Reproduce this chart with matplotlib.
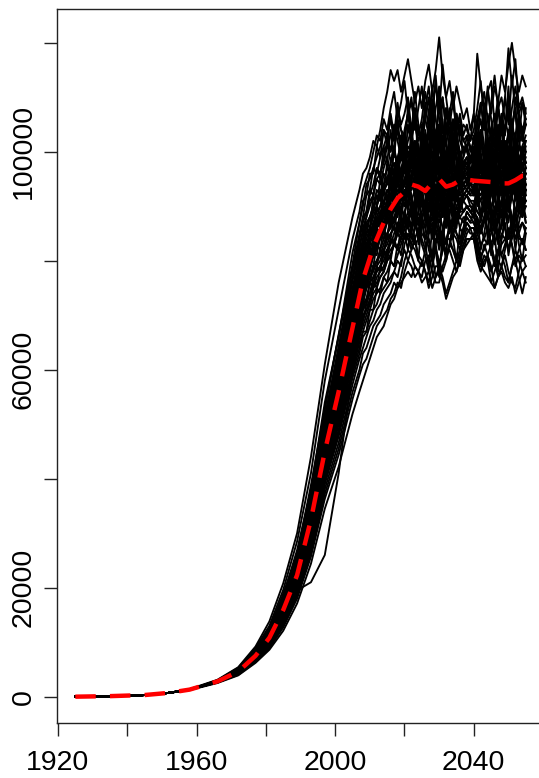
import numpy as np
import matplotlib
matplotlib.use("Agg")
import matplotlib.pyplot as plt

plt.rcParams['font.family'] = ['Liberation Sans', 'DejaVu Sans']

# Years before the runs split apart (all runs share these values, in thousands)
early_years = [1925, 1935, 1945, 1952]
early_vals = [0.0, 0.1, 0.3, 0.7]

# Years where the simulated runs are sampled (coarse during the rise, yearly after)
rise_years = [1958, 1966, 1972, 1977, 1981, 1985, 1989, 1993, 1997, 2001, 2005]
late_years = list(range(2007, 2056))

# Mean of all runs (red dashed line), thousands
mean_years = [1958, 1966, 1972, 1977, 1981, 1985, 1989, 1993, 1997, 2001,
              2005, 2008, 2011, 2014, 2016, 2018, 2020, 2022, 2024, 2026,
              2028, 2030, 2032, 2034, 2036, 2038, 2040, 2042, 2044, 2046,
              2048, 2050, 2052, 2054, 2055]
mean_vals = [1.3, 2.8, 4.6, 7.5, 10.8, 15.9, 22.3, 32.5, 45.0, 56.0,
             67.7, 76.5, 82.5, 87.0, 89.5, 91.5, 92.6, 94.0, 93.6, 92.8,
             94.3, 95.0, 93.6, 94.0, 94.8, 94.9, 94.7, 94.6, 94.5, 94.4,
             94.2, 94.2, 94.8, 95.6, 95.6]

# Each run during the rise (rise_years), thousands
rise_runs = [
    [1.4, 3.1, 5.4, 9.2, 13.8, 20.8, 30.0, 44.0, 61.0, 76.0, 88.0],
    [1.3, 3.0, 5.3, 8.9, 13.0, 19.6, 28.5, 41.0, 58.0, 71.0, 84.0],
    [1.3, 3.0, 5.1, 8.5, 12.4, 18.5, 26.9, 38.0, 54.0, 66.0, 81.5],
    [1.3, 2.9, 5.0, 8.4, 12.5, 18.2, 25.8, 37.2, 52.9, 66.2, 78.5],
    [1.3, 3.0, 5.0, 8.4, 12.0, 18.0, 25.9, 37.8, 51.0, 64.0, 78.5],
    [1.3, 2.9, 4.9, 8.2, 12.1, 17.7, 25.0, 36.2, 51.5, 63.0, 77.0],
    [1.3, 2.9, 4.9, 8.0, 11.9, 17.4, 24.9, 36.5, 49.5, 62.5, 74.5],
    [1.3, 2.9, 4.8, 8.0, 11.7, 17.1, 24.5, 35.0, 49.5, 60.6, 74.3],
    [1.3, 2.9, 4.8, 7.9, 11.6, 17.3, 23.8, 35.5, 48.2, 60.8, 72.6],
    [1.3, 2.9, 4.7, 7.8, 11.3, 16.9, 23.4, 34.8, 47.3, 59.8, 71.2],
    [1.3, 2.8, 4.7, 7.7, 11.4, 16.5, 23.7, 33.8, 47.8, 58.3, 71.6],
    [1.3, 2.8, 4.7, 7.6, 11.2, 16.3, 23.2, 33.2, 46.8, 57.2, 70.2],
    [1.3, 2.8, 4.6, 7.6, 11.0, 16.4, 22.6, 33.6, 45.5, 57.5, 68.6],
    [1.3, 2.8, 4.6, 7.5, 10.9, 15.9, 22.7, 32.5, 45.8, 56.2, 68.8],
    [1.3, 2.8, 4.6, 7.5, 10.7, 16.0, 22.1, 32.8, 44.6, 56.4, 67.3],
    [1.3, 2.8, 4.5, 7.4, 10.6, 15.8, 21.9, 32.4, 44.2, 55.8, 66.6],
    [1.3, 2.8, 4.5, 7.3, 10.6, 15.5, 21.7, 31.6, 44.4, 54.5, 66.8],
    [1.3, 2.7, 4.5, 7.3, 10.5, 15.3, 21.8, 31.2, 43.9, 54.0, 66.0],
    [1.3, 2.7, 4.5, 7.2, 10.4, 15.2, 21.6, 30.9, 43.5, 53.4, 65.4],
    [1.3, 2.7, 4.4, 7.2, 10.3, 14.8, 21.2, 30.2, 42.6, 52.2, 64.0],
    [1.3, 2.7, 4.4, 7.1, 10.1, 14.9, 20.5, 30.5, 41.5, 52.4, 62.5],
    [1.3, 2.7, 4.3, 7.0, 9.9, 14.6, 20.1, 29.9, 40.6, 51.3, 61.2],
    [1.3, 2.7, 4.3, 6.9, 9.8, 14.2, 20.3, 29.0, 40.8, 50.0, 61.3],
    [1.3, 2.7, 4.2, 6.8, 9.7, 14.0, 19.8, 28.3, 39.9, 49.0, 60.0],
    [1.3, 2.6, 4.2, 6.7, 9.5, 13.6, 19.4, 27.7, 39.0, 47.8, 58.5],
    [1.3, 2.6, 4.1, 6.6, 9.4, 13.3, 18.9, 27.0, 38.1, 46.6, 57.3],
    [1.3, 2.6, 4.1, 6.5, 9.2, 13.0, 18.5, 26.4, 37.2, 45.5, 55.9],
    [1.3, 2.6, 4.0, 6.4, 8.9, 12.7, 18.0, 25.7, 36.3, 44.4, 54.6],
    [1.2, 2.5, 3.9, 6.2, 8.6, 12.1, 17.1, 24.4, 34.5, 42.2, 51.9],
    [1.3, 2.8, 4.5, 7.2, 10.3, 14.8, 19.5, 21.0, 26.0, 41.0, 60.0],
    [1.3, 2.9, 4.9, 8.1, 12.0, 17.5, 25.3, 36.0, 50.8, 62.2, 76.3],
    [1.3, 2.9, 4.8, 7.9, 11.5, 16.8, 24.1, 34.5, 48.6, 59.5, 72.9],
    [1.3, 2.8, 4.7, 7.7, 11.1, 16.6, 23.0, 34.1, 46.5, 58.6, 70.0],
    [1.3, 2.8, 4.6, 7.5, 10.9, 15.8, 22.5, 32.2, 45.3, 55.6, 68.1],
    [1.3, 2.8, 4.5, 7.4, 10.7, 15.4, 22.1, 31.7, 44.5, 54.6, 66.0],
    [1.3, 2.7, 4.5, 7.2, 10.4, 15.0, 21.4, 30.6, 43.1, 52.8, 64.7],
    [1.3, 2.7, 4.4, 7.0, 10.0, 14.8, 20.3, 30.2, 41.0, 51.8, 61.9],
    [1.3, 2.7, 4.3, 6.9, 9.7, 14.3, 19.7, 29.2, 39.8, 50.1, 59.8],
    [1.3, 2.9, 4.9, 8.0, 11.8, 17.2, 24.8, 35.4, 49.9, 61.2, 75.0],
    [1.3, 2.7, 4.4, 7.2, 10.5, 15.3, 21.4, 31.2, 43.2, 53.8, 65.0],
    [1.3, 2.9, 5.0, 8.2, 12.2, 18.2, 25.1, 37.5, 51.0, 64.3, 76.8],
    [1.3, 2.9, 4.9, 8.1, 11.5, 17.0, 24.6, 35.1, 49.4, 61.3, 73.5],
    [1.3, 2.8, 4.8, 7.8, 11.2, 16.8, 23.2, 34.4, 47.0, 59.1, 70.8],
    [1.3, 2.8, 4.7, 7.7, 11.0, 16.5, 22.8, 33.8, 46.1, 58.0, 69.4],
    [1.3, 2.8, 4.6, 7.5, 11.0, 16.0, 22.7, 32.6, 45.7, 56.3, 68.7],
    [1.3, 2.8, 4.6, 7.4, 10.6, 15.8, 22.0, 32.0, 44.9, 55.1, 67.4],
    [1.3, 2.7, 4.5, 7.3, 10.6, 15.3, 21.8, 31.3, 43.5, 54.6, 65.4],
    [1.3, 2.7, 4.4, 7.2, 10.2, 15.2, 21.0, 31.1, 42.5, 53.5, 64.0],
    [1.3, 2.7, 4.4, 7.1, 10.1, 14.7, 20.9, 30.0, 42.2, 51.8, 63.3],
    [1.3, 2.7, 4.3, 7.0, 9.9, 14.4, 20.5, 29.4, 41.3, 50.7, 61.9],
    [1.3, 3.0, 5.1, 8.6, 12.4, 18.9, 26.0, 38.8, 52.7, 66.5, 79.4],
    [1.3, 2.7, 4.2, 6.8, 9.7, 13.8, 19.6, 28.0, 39.5, 48.4, 59.3],
    [1.3, 2.8, 4.7, 7.6, 11.1, 16.1, 23.0, 33.0, 46.2, 56.8, 69.5],
    [1.3, 2.8, 4.5, 7.3, 10.7, 15.5, 22.1, 31.6, 44.4, 54.6, 66.6],
    [1.3, 2.9, 4.8, 7.9, 11.3, 16.9, 23.4, 34.8, 47.4, 59.7, 71.5],
]

# Each run from 2007 to 2055 (late_years), thousands
late_runs = [
    [93, 96, 97, 99, 102, 101, 104, 108, 111, 115, 113, 115, 111, 114, 117, 113, 109, 112, 108, 113, 116, 111, 115, 121, 114, 110, 113, 108, 112, 109, 106, 108, 104, 107, 118, 112, 108, 111, 107, 112, 109, 114, 111, 116, 120, 115, 111, 114, 112],
    [89, 93, 95, 97, 100, 103, 102, 106, 104, 108, 111, 106, 109, 113, 107, 110, 104, 108, 112, 106, 103, 109, 112, 107, 116, 110, 105, 109, 104, 107, 103, 105, 102, 104, 108, 113, 106, 103, 109, 114, 108, 105, 110, 119, 112, 117, 108, 110, 107],
    [87, 90, 94, 95, 97, 99, 101, 104, 103, 106, 102, 108, 105, 107, 110, 104, 108, 103, 106, 111, 107, 102, 108, 112, 105, 101, 107, 111, 104, 106, 102, 103, 100, 102, 106, 109, 104, 111, 113, 105, 101, 107, 104, 108, 103, 110, 106, 102, 105],
    [85, 88, 92, 93, 97, 96, 99, 101, 103, 100, 105, 102, 99, 104, 107, 102, 99, 105, 101, 106, 110, 103, 98, 105, 101, 108, 104, 99, 106, 102, 100, 101, 99, 100, 103, 106, 101, 98, 104, 107, 102, 106, 103, 110, 104, 99, 106, 103, 105],
    [84, 87, 89, 92, 94, 97, 96, 99, 102, 98, 101, 104, 100, 103, 99, 102, 106, 101, 97, 104, 100, 105, 114, 106, 101, 97, 103, 100, 104, 99, 101, 100, 98, 99, 102, 104, 99, 107, 103, 97, 101, 104, 98, 100, 105, 108, 102, 99, 101],
    [83, 85, 88, 90, 92, 95, 94, 97, 99, 96, 100, 98, 103, 100, 97, 103, 99, 104, 101, 96, 99, 102, 96, 103, 99, 108, 102, 98, 103, 100, 98, 97, 99, 97, 100, 104, 98, 101, 100, 96, 103, 106, 100, 99, 104, 103, 107, 109, 105],
    [81, 84, 87, 88, 90, 93, 92, 96, 95, 98, 101, 97, 99, 99, 102, 104, 98, 96, 100, 103, 97, 100, 95, 95, 101, 102, 98, 106, 99, 97, 97, 98, 96, 99, 101, 96, 99, 103, 98, 100, 104, 95, 99, 104, 100, 99, 97, 101, 98],
    [80, 83, 85, 88, 89, 92, 91, 94, 97, 96, 98, 95, 101, 102, 97, 97, 99, 100, 97, 95, 99, 103, 100, 98, 95, 94, 97, 101, 103, 99, 96, 96, 97, 95, 99, 102, 98, 97, 100, 104, 101, 98, 96, 93, 98, 101, 96, 99, 102],
    [79, 82, 85, 86, 89, 90, 93, 92, 95, 95, 97, 99, 96, 96, 100, 100, 97, 94, 97, 98, 101, 92, 96, 101, 99, 97, 94, 93, 97, 100, 97, 97, 95, 96, 98, 99, 95, 94, 99, 97, 102, 101, 98, 96, 99, 92, 97, 100, 97],
    [78, 80, 83, 85, 87, 89, 90, 93, 91, 94, 96, 94, 97, 99, 96, 95, 92, 98, 100, 93, 95, 97, 92, 91, 95, 100, 97, 96, 93, 92, 94, 95, 96, 97, 95, 94, 97, 99, 96, 92, 95, 96, 99, 100, 97, 95, 93, 91, 94],
    [77, 80, 82, 84, 86, 88, 90, 91, 93, 92, 95, 97, 94, 94, 97, 98, 95, 92, 94, 96, 100, 99, 96, 93, 91, 90, 94, 97, 95, 94, 93, 94, 96, 95, 97, 98, 94, 92, 93, 95, 91, 90, 94, 97, 99, 101, 97, 94, 96],
    [76, 78, 81, 83, 85, 86, 88, 89, 91, 92, 91, 94, 95, 97, 95, 93, 95, 96, 91, 90, 94, 95, 98, 99, 95, 92, 93, 94, 97, 98, 94, 93, 94, 94, 92, 91, 93, 96, 98, 99, 96, 93, 91, 89, 92, 95, 97, 98, 96],
    [75, 78, 80, 82, 84, 86, 87, 89, 88, 91, 93, 95, 92, 92, 94, 96, 97, 99, 95, 93, 89, 92, 96, 96, 95, 94, 92, 91, 94, 95, 96, 95, 93, 93, 95, 97, 93, 90, 92, 94, 97, 98, 95, 92, 94, 96, 93, 90, 93],
    [74, 77, 79, 81, 83, 85, 86, 88, 89, 89, 92, 90, 93, 95, 93, 91, 93, 94, 96, 97, 94, 92, 89, 88, 92, 95, 94, 93, 91, 90, 92, 93, 94, 95, 93, 92, 94, 96, 93, 89, 91, 94, 96, 97, 95, 91, 93, 95, 92],
    [74, 76, 78, 81, 82, 84, 86, 87, 88, 90, 89, 91, 92, 90, 91, 94, 93, 91, 90, 89, 93, 95, 93, 92, 89, 87, 91, 94, 93, 91, 93, 94, 93, 92, 94, 95, 93, 91, 89, 88, 91, 93, 90, 90, 93, 96, 94, 92, 94],
    [73, 76, 78, 80, 82, 84, 85, 87, 89, 91, 93, 92, 95, 97, 96, 95, 98, 99, 96, 94, 97, 98, 101, 101, 98, 96, 94, 93, 96, 99, 96, 95, 96, 97, 95, 94, 96, 100, 98, 96, 93, 92, 95, 98, 97, 95, 98, 100, 97],
    [72, 75, 77, 79, 81, 82, 84, 85, 87, 88, 90, 89, 91, 93, 92, 89, 91, 92, 94, 95, 92, 90, 89, 87, 90, 93, 92, 90, 88, 90, 92, 92, 93, 93, 91, 89, 90, 92, 93, 95, 91, 88, 89, 91, 88, 86, 89, 93, 91],
    [72, 74, 77, 79, 81, 83, 85, 86, 89, 91, 93, 95, 96, 98, 101, 100, 97, 98, 102, 103, 99, 99, 103, 105, 100, 98, 100, 102, 99, 96, 98, 98, 99, 99, 101, 103, 99, 97, 99, 101, 103, 106, 100, 98, 100, 102, 99, 97, 100],
    [71, 73, 76, 77, 79, 80, 82, 84, 85, 87, 86, 89, 90, 92, 90, 88, 91, 91, 88, 86, 90, 92, 94, 94, 90, 88, 86, 85, 88, 91, 91, 90, 90, 90, 89, 88, 91, 93, 90, 87, 85, 84, 88, 90, 92, 93, 89, 88, 90],
    [69, 72, 73, 76, 77, 79, 80, 82, 83, 85, 86, 85, 88, 86, 87, 90, 88, 87, 89, 91, 88, 85, 88, 89, 86, 83, 86, 88, 90, 91, 89, 90, 89, 89, 88, 86, 88, 90, 88, 85, 87, 89, 86, 82, 85, 88, 90, 91, 87],
    [68, 71, 73, 74, 77, 78, 79, 81, 82, 84, 83, 86, 85, 87, 89, 88, 86, 88, 85, 84, 87, 89, 86, 82, 85, 88, 86, 85, 87, 89, 89, 90, 89, 88, 86, 85, 87, 89, 86, 83, 85, 86, 89, 90, 88, 84, 86, 87, 85],
    [67, 70, 71, 73, 75, 77, 78, 79, 81, 82, 83, 85, 84, 88, 86, 85, 83, 84, 88, 86, 82, 80, 83, 86, 84, 80, 83, 87, 85, 84, 86, 89, 88, 88, 87, 86, 84, 83, 85, 87, 84, 81, 83, 85, 87, 88, 85, 83, 86],
    [66, 69, 71, 72, 75, 76, 77, 78, 80, 81, 83, 82, 84, 86, 84, 83, 86, 87, 84, 82, 85, 87, 83, 79, 82, 84, 86, 88, 85, 83, 86, 88, 87, 87, 85, 83, 84, 86, 83, 80, 82, 85, 84, 82, 84, 86, 84, 84, 82],
    [65, 67, 69, 71, 73, 74, 75, 77, 78, 80, 79, 81, 83, 85, 84, 82, 84, 86, 83, 81, 78, 81, 84, 84, 83, 81, 83, 85, 84, 82, 85, 87, 86, 86, 84, 81, 82, 84, 82, 79, 81, 83, 84, 86, 83, 80, 82, 84, 82],
    [63, 66, 67, 69, 71, 72, 74, 75, 76, 77, 78, 80, 79, 83, 85, 83, 82, 80, 79, 82, 84, 81, 77, 79, 82, 84, 84, 82, 80, 82, 84, 86, 85, 85, 82, 80, 79, 81, 83, 80, 77, 79, 82, 85, 83, 79, 81, 80, 81],
    [62, 64, 66, 68, 69, 71, 72, 74, 75, 76, 78, 77, 80, 82, 80, 82, 84, 81, 80, 78, 76, 79, 82, 80, 78, 80, 83, 82, 80, 81, 83, 85, 86, 86, 83, 80, 83, 81, 78, 80, 82, 81, 79, 76, 79, 82, 80, 78, 79],
    [60, 63, 64, 66, 68, 69, 70, 72, 73, 74, 76, 75, 77, 80, 82, 81, 79, 78, 77, 80, 81, 78, 76, 76, 79, 81, 82, 80, 78, 81, 83, 84, 84, 84, 81, 79, 81, 80, 76, 78, 80, 79, 81, 78, 76, 75, 78, 81, 79],
    [59, 61, 62, 64, 66, 68, 69, 70, 71, 73, 74, 76, 75, 78, 80, 79, 77, 78, 80, 78, 75, 77, 79, 79, 77, 74, 76, 78, 80, 79, 82, 83, 84, 84, 80, 78, 80, 81, 79, 75, 77, 79, 77, 76, 79, 80, 77, 74, 77],
    [56, 58, 60, 62, 64, 66, 67, 68, 70, 72, 73, 75, 76, 77, 78, 77, 79, 78, 76, 77, 78, 75, 77, 78, 76, 73, 75, 77, 78, 80, 82, 84, 84, 85, 81, 79, 78, 77, 76, 75, 77, 78, 76, 75, 77, 74, 76, 78, 76],
    [67, 72, 75, 78, 81, 83, 85, 86, 88, 90, 91, 93, 92, 94, 95, 93, 96, 95, 97, 98, 95, 94, 96, 96, 93, 91, 94, 96, 95, 93, 94, 95, 95, 95, 96, 97, 94, 93, 95, 96, 94, 92, 94, 91, 93, 97, 95, 93, 94],
    [82, 86, 88, 91, 92, 95, 96, 98, 101, 100, 103, 106, 104, 103, 107, 109, 105, 102, 104, 108, 112, 106, 103, 108, 110, 104, 101, 104, 107, 104, 102, 101, 103, 102, 105, 108, 111, 106, 102, 104, 108, 110, 106, 103, 108, 112, 107, 104, 106],
    [79, 81, 84, 86, 88, 90, 92, 93, 94, 97, 96, 99, 101, 98, 96, 99, 102, 100, 98, 101, 103, 99, 97, 102, 104, 101, 98, 97, 101, 99, 98, 99, 98, 100, 103, 99, 97, 100, 104, 102, 98, 97, 101, 103, 106, 101, 98, 100, 102],
    [77, 79, 82, 84, 86, 87, 89, 90, 93, 92, 95, 96, 99, 97, 95, 98, 100, 96, 94, 97, 99, 102, 98, 95, 97, 100, 99, 95, 96, 98, 97, 96, 98, 99, 97, 95, 98, 101, 99, 95, 97, 100, 102, 98, 95, 97, 101, 99, 98],
    [74, 77, 78, 81, 83, 84, 86, 87, 89, 91, 92, 94, 93, 95, 98, 96, 94, 97, 99, 96, 93, 96, 100, 98, 95, 97, 99, 96, 94, 96, 97, 98, 96, 96, 99, 97, 94, 96, 98, 100, 96, 93, 97, 99, 96, 94, 97, 99, 98],
    [73, 75, 77, 79, 82, 83, 84, 86, 87, 89, 91, 90, 93, 94, 92, 95, 97, 94, 92, 95, 97, 94, 91, 93, 96, 98, 95, 93, 96, 95, 94, 95, 94, 93, 95, 97, 93, 95, 97, 94, 92, 95, 98, 96, 93, 92, 95, 97, 95],
    [70, 73, 75, 76, 79, 80, 81, 83, 85, 86, 88, 90, 89, 92, 94, 91, 90, 93, 95, 92, 89, 91, 94, 92, 89, 91, 94, 95, 92, 90, 92, 93, 92, 92, 93, 91, 89, 92, 94, 91, 89, 91, 94, 95, 92, 89, 91, 94, 93],
    [68, 71, 72, 74, 76, 78, 79, 80, 82, 83, 85, 87, 86, 89, 91, 90, 87, 89, 92, 90, 86, 88, 91, 93, 90, 87, 89, 92, 90, 89, 91, 92, 91, 91, 89, 88, 91, 93, 90, 87, 88, 91, 93, 90, 87, 89, 92, 90, 91],
    [66, 68, 70, 72, 74, 75, 77, 78, 80, 81, 83, 85, 84, 86, 88, 90, 87, 85, 88, 90, 87, 84, 86, 89, 91, 88, 85, 87, 90, 88, 89, 90, 89, 90, 87, 85, 88, 91, 89, 86, 84, 87, 90, 91, 88, 86, 89, 91, 88],
    [81, 84, 86, 88, 90, 92, 91, 94, 95, 93, 96, 98, 95, 94, 97, 99, 96, 93, 95, 98, 96, 93, 95, 99, 97, 94, 96, 98, 95, 94, 96, 96, 95, 97, 95, 93, 96, 98, 95, 93, 96, 99, 97, 94, 96, 99, 96, 94, 97],
    [71, 73, 75, 77, 78, 80, 81, 82, 84, 85, 86, 85, 87, 88, 86, 84, 86, 89, 87, 84, 86, 88, 85, 83, 86, 89, 87, 85, 87, 88, 87, 89, 88, 87, 85, 86, 88, 86, 83, 85, 88, 89, 86, 84, 86, 88, 85, 87, 86],
    [84, 88, 89, 93, 92, 97, 95, 101, 98, 104, 99, 106, 100, 97, 105, 101, 108, 98, 103, 96, 106, 109, 101, 111, 99, 104, 107, 97, 102, 105, 99, 103, 101, 98, 106, 100, 108, 103, 96, 105, 110, 99, 104, 112, 101, 97, 106, 102, 108],
    [81, 82, 87, 86, 92, 90, 95, 93, 98, 94, 101, 96, 103, 98, 95, 104, 99, 96, 105, 93, 101, 107, 97, 100, 106, 95, 102, 98, 104, 97, 99, 101, 98, 103, 96, 102, 107, 97, 100, 105, 94, 102, 99, 95, 104, 108, 98, 101, 103],
    [78, 81, 82, 86, 85, 90, 88, 93, 91, 96, 93, 99, 95, 101, 96, 94, 102, 97, 92, 100, 104, 94, 99, 105, 96, 93, 101, 97, 103, 95, 98, 99, 97, 96, 101, 97, 93, 102, 98, 94, 103, 100, 95, 99, 105, 96, 93, 100, 98],
    [76, 80, 80, 84, 84, 88, 87, 91, 90, 94, 92, 97, 94, 99, 94, 101, 95, 91, 99, 102, 93, 97, 103, 95, 91, 100, 97, 102, 94, 98, 96, 97, 95, 99, 94, 100, 96, 92, 101, 97, 93, 99, 102, 94, 98, 103, 95, 97, 99],
    [75, 78, 79, 82, 82, 86, 85, 90, 88, 92, 91, 95, 92, 98, 93, 96, 100, 91, 97, 94, 89, 99, 96, 92, 101, 95, 90, 98, 94, 99, 95, 96, 94, 97, 93, 99, 95, 101, 92, 96, 100, 93, 97, 101, 93, 97, 99, 94, 96],
    [74, 75, 79, 79, 83, 82, 86, 85, 90, 87, 92, 89, 94, 91, 96, 92, 88, 97, 93, 99, 91, 95, 90, 98, 94, 89, 96, 92, 98, 93, 96, 94, 95, 92, 97, 94, 90, 98, 95, 91, 97, 94, 89, 96, 100, 93, 95, 98, 94],
    [72, 75, 76, 79, 79, 83, 82, 86, 84, 89, 87, 91, 88, 93, 90, 95, 97, 89, 93, 90, 96, 92, 87, 95, 91, 97, 93, 88, 95, 92, 94, 93, 94, 96, 91, 95, 98, 90, 94, 97, 92, 88, 95, 92, 97, 94, 90, 96, 93],
    [71, 72, 76, 76, 79, 79, 82, 81, 85, 84, 88, 86, 90, 88, 93, 89, 86, 94, 91, 87, 95, 90, 86, 93, 88, 95, 91, 87, 93, 89, 92, 92, 91, 90, 94, 88, 92, 96, 89, 93, 87, 91, 95, 89, 92, 96, 90, 88, 93],
    [69, 72, 72, 76, 75, 79, 78, 82, 80, 84, 83, 87, 85, 89, 86, 91, 87, 84, 92, 88, 85, 93, 88, 84, 91, 87, 93, 89, 86, 91, 89, 90, 89, 88, 92, 87, 90, 94, 86, 89, 84, 91, 88, 92, 85, 88, 93, 89, 90],
    [67, 69, 72, 72, 76, 75, 79, 78, 82, 80, 84, 82, 86, 84, 88, 85, 90, 83, 87, 91, 84, 80, 89, 86, 82, 90, 87, 84, 89, 86, 88, 88, 87, 89, 85, 88, 92, 84, 86, 90, 83, 87, 91, 84, 88, 82, 87, 90, 87],
    [87, 91, 92, 96, 96, 101, 99, 104, 101, 107, 103, 109, 104, 101, 108, 103, 111, 105, 100, 109, 104, 112, 106, 101, 110, 104, 108, 102, 107, 103, 105, 104, 102, 107, 101, 109, 104, 112, 106, 101, 108, 104, 110, 105, 114, 107, 102, 109, 106],
    [64, 67, 67, 71, 71, 75, 74, 77, 76, 80, 79, 83, 81, 85, 82, 87, 84, 80, 88, 83, 79, 86, 82, 77, 85, 81, 88, 84, 80, 86, 85, 87, 86, 84, 88, 82, 85, 89, 81, 85, 78, 84, 87, 81, 85, 89, 83, 80, 85],
    [75, 79, 79, 83, 83, 87, 86, 90, 89, 94, 92, 97, 95, 100, 96, 102, 98, 95, 103, 99, 96, 104, 100, 97, 103, 99, 95, 102, 98, 100, 97, 99, 98, 101, 97, 103, 99, 95, 102, 98, 105, 100, 96, 103, 99, 95, 101, 104, 100],
    [73, 74, 78, 78, 82, 81, 85, 84, 88, 86, 90, 88, 92, 90, 94, 91, 87, 95, 92, 88, 96, 90, 94, 89, 96, 92, 88, 94, 91, 95, 92, 93, 92, 94, 90, 95, 91, 88, 96, 92, 89, 95, 91, 87, 93, 97, 91, 94, 92],
    [78, 80, 83, 84, 87, 86, 89, 88, 91, 89, 92, 90, 87, 93, 89, 86, 92, 90, 94, 88, 85, 91, 89, 95, 90, 86, 92, 89, 93, 90, 91, 92, 90, 89, 93, 88, 91, 95, 89, 86, 92, 88, 93, 90, 86, 92, 95, 89, 91],
]

xticks = [1920, 1940, 1960, 1980, 2000, 2020, 2040]
xticklabels = ['1920', '', '1960', '', '2000', '', '2040']
yticks = [0, 20000, 40000, 60000, 80000, 100000, 120000]
yticklabels = ['0', '20000', '', '60000', '', '100000', '']

assert all(len(r) == len(rise_years) for r in rise_runs)
assert all(len(r) == len(late_years) for r in late_runs)

fig = plt.figure(figsize=(5.39, 7.78), dpi=100)
ax = fig.add_axes([0.1063, 0.0707, 0.9026, 0.9177])

run_years = early_years + rise_years + late_years
for rise, late in zip(rise_runs, late_runs):
    vals = np.array(early_vals + rise + late) * 1000
    ax.plot(run_years, vals, color='black', lw=1.35, solid_joinstyle='round')

# mean of the runs, red dashed on top
ax.plot(early_years + mean_years, np.array(early_vals + mean_vals) * 1000,
        color='#ff0000', lw=3.2, linestyle=(0, (4.6, 3.2)))

ax.set_xlim(1919.8, 2060.2)
ax.set_ylim(-4830, 126200)
ax.set_xticks(xticks)
ax.set_xticklabels(xticklabels)
ax.set_yticks(yticks)
ax.set_yticklabels(yticklabels, rotation=90, va='center')

ax.tick_params(axis='both', direction='out', length=9.4, width=1.0,
               labelsize=20.5, color='#222222')
ax.tick_params(axis='x', pad=10)
ax.tick_params(axis='y', pad=5.5)
for s in ax.spines.values():
    s.set_linewidth(1.0)
    s.set_color('#222222')

fig.savefig('out.png', dpi=100)
